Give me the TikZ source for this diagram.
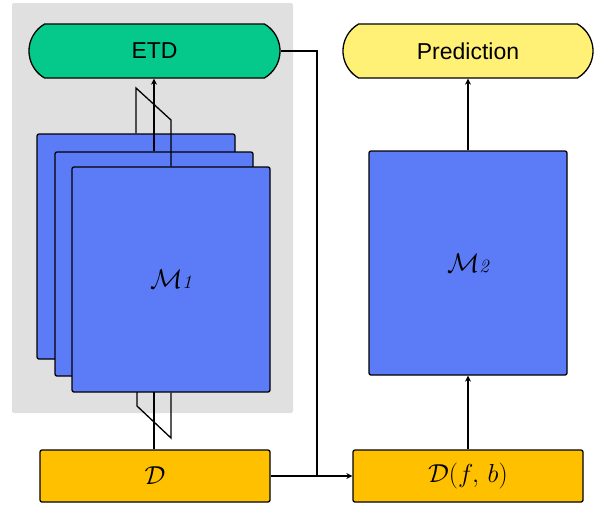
\RequirePackage{fix-cm}
\documentclass[tikz,border=0pt]{standalone}
\usepackage{fontspec}
\newfontfamily\arialf{Liberation Sans}
\usetikzlibrary{shapes.misc,arrows.meta}
\definecolor{bgG}{RGB}{224,224,224}
\definecolor{etdG}{RGB}{4,201,138}
\definecolor{predY}{RGB}{255,241,118}
\definecolor{modB}{RGB}{92,123,246}
\definecolor{dataO}{RGB}{255,192,0}
\tikzset{
  pill/.style={rounded rectangle, rounded rectangle arc length=120, draw=black, line width=1.3pt,
    minimum height=54pt, inner sep=0pt, font=\arialf\fontsize{23}{27}\selectfont},
  model/.style={rectangle, rounded corners=2pt, draw=black, line width=1.3pt, fill=modB,
    minimum width=198pt, inner sep=0pt, font=\fontsize{27}{31}\selectfont},
  data/.style={rectangle, rounded corners=2pt, draw=black, line width=1.3pt, fill=dataO,
    minimum width=230pt, minimum height=52pt, inner sep=0pt, font=\fontsize{26}{30}\selectfont},
  conn/.style={line width=1.3pt, draw=black},
  arr/.style={conn, -{Stealth[length=6pt,width=6pt]}}
}
\begin{document}
\begin{tikzpicture}[x=1pt,y=-1pt]
\useasboundingbox (0,0) rectangle (595,504);
\fill[bgG, rounded corners=2pt] (12,3) rectangle (293,413);
\node[pill, fill=etdG, minimum width=251pt] (etd) at (154.5,51) {ETD};
\node[pill, fill=predY, minimum width=250pt] (pred) at (468,51) {Prediction};
\node[model, minimum height=225pt] (b1) at (136,246.5) {};
\node[model, minimum height=224pt] (b2) at (154,264) {};
\node[model, minimum height=225pt] (b3) at (171,279.5) {$\mathcal{M}\scriptstyle\mathit{1}$};
\node[model, minimum height=224pt] (m2) at (468,263) {$\mathcal{M}\scriptstyle\mathit{2}$};
\node[data] (d) at (155,476) {$\mathcal{D}$};
\node[data] (dfb) at (468,476) {$\mathcal{D}(f,\,b)$};
% top connectors of stack
\coordinate (t1) at (136,88);
\coordinate (t3) at (171,120);
\draw[conn] (b1.north) -- (t1) -- (t3) -- (b3.north);
\draw[arr] (b2.north) -- (etd.south -| b2.north);
% bottom connectors
\coordinate (s1a) at (137,392);
\coordinate (s1b) at (137,406);
\coordinate (s3a) at (171,438);
\draw[conn] (s1a) -- (s1b) -- (s3a) -- (b3.south);
\coordinate (s2) at (154,392);
\draw[conn] (s2) -- (d.north -| s2);
% right side
\coordinate (j) at (317,476);
\draw[arr] (d.east) -- (dfb.west);
\draw[conn] (etd.east) -| (j);
\draw[arr] (dfb.north) -- (m2.south);
\draw[arr] (m2.north) -- (pred.south);
\end{tikzpicture}
\end{document}
